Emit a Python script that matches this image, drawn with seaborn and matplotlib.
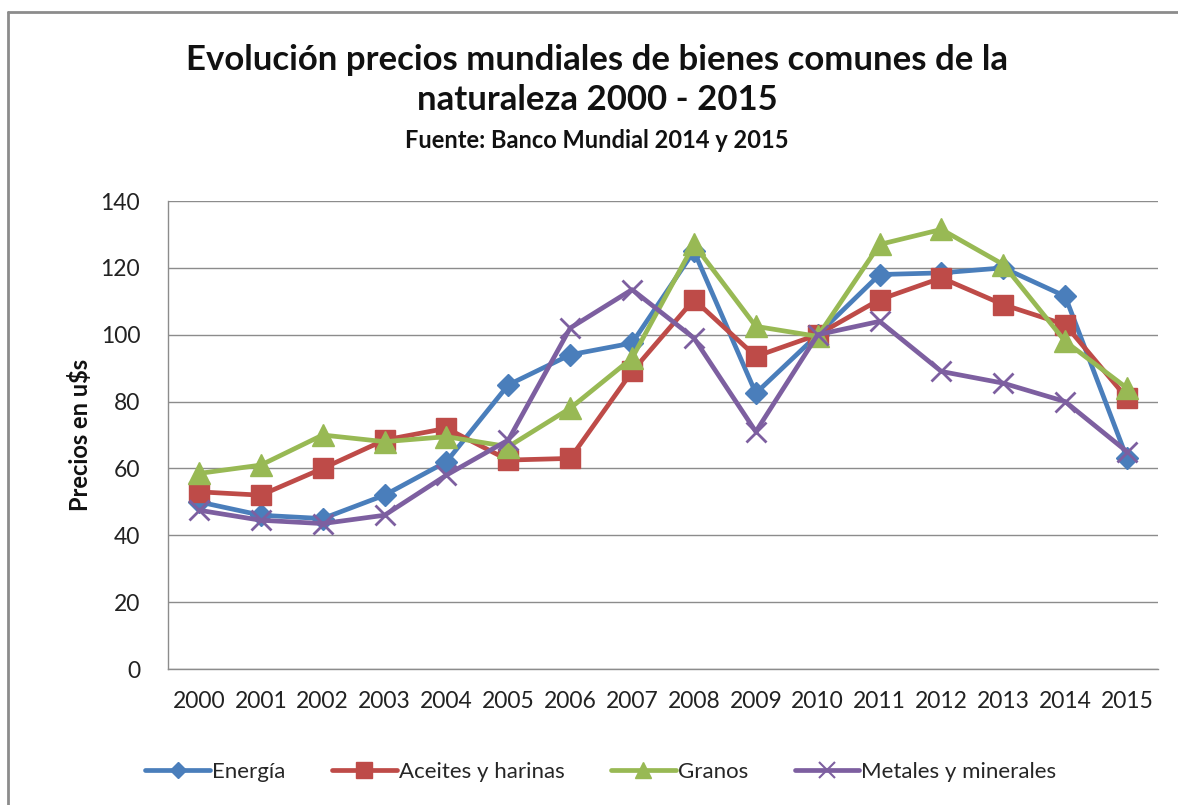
import matplotlib
matplotlib.use("Agg")
import matplotlib.pyplot as plt
import seaborn as sns
import pandas as pd
from matplotlib.lines import Line2D

years = list(range(2000, 2016))
energia = [50, 46, 45, 52, 62, 85, 94, 97.5, 125, 82.5, 100, 118, 118.5, 120, 111.5, 63]
aceites = [53, 52, 60, 68.5, 72, 62.5, 63, 89, 110.5, 93.5, 100, 110.5, 117, 109, 103, 81]
granos = [58.5, 61, 70, 68, 69.5, 66.5, 78, 93, 127, 102.5, 99.5, 127, 131.5, 121, 98, 84]
metales = [47.5, 44.5, 43.5, 46, 58, 68.5, 102, 113.5, 99, 71, 100, 104, 89, 85.5, 80, 65]

series_names = ["Energía", "Aceites y harinas", "Granos", "Metales y minerales"]
series_values = [energia, aceites, granos, metales]
colors = ["#4A7EBB", "#BE4B48", "#98B954", "#7D5FA0"]
markers = ["D", "s", "^", "x"]
msizes = [11, 15, 16, 15]

sns.set_theme(style="white")
plt.rcParams['font.family'] = ['Lato', 'DejaVu Sans']

fig = plt.figure(figsize=(11.78, 8.05), dpi=100)
ax = fig.add_axes([168/1178, 1-669/805, (1158-168)/1178, (669-201)/805])

for name, vals, c, m, ms in zip(series_names, series_values, colors, markers, msizes):
    df = pd.DataFrame({"year": years, "value": vals})
    sns.lineplot(data=df, x="year", y="value", ax=ax, color=c, linewidth=3.4,
                 marker=m, markersize=ms, markeredgecolor=c,
                 markeredgewidth=(2 if m == "x" else 1), label=name, legend=False)

ax.set_xlim(1999.5, 2015.5)
ax.set_ylim(0, 140)
ax.set_yticks(range(0, 141, 20))
ax.set_xticks(years)
ax.set_xticklabels([str(y) for y in years], fontsize=16.5, color="#222222")
ax.tick_params(axis="y", labelsize=16.5, colors="#222222", length=0, pad=20)
ax.tick_params(axis="x", length=0, pad=16)
ax.grid(axis="y", color="#8c8c8c", linewidth=1)
ax.grid(axis="x", visible=False)
for s in ["top", "right"]:
    ax.spines[s].set_visible(False)
for s in ["left", "bottom"]:
    ax.spines[s].set_color("#8c8c8c")
    ax.spines[s].set_linewidth(1)
ax.set_xlabel("")
ax.set_ylabel("Precios en u$s", fontsize=17, fontweight="bold", color="#111111", labelpad=6)

fig.text(597/1178, 1-60/805, "Evolución precios mundiales de bienes comunes de la",
         ha="center", va="center", fontsize=25, fontweight="bold", color="#111111")
fig.text(597/1178, 1-100/805, "naturaleza 2000 - 2015",
         ha="center", va="center", fontsize=25, fontweight="bold", color="#111111")
fig.text(597/1178, 1-141/805, "Fuente: Banco Mundial 2014 y 2015",
         ha="center", va="center", fontsize=17, fontweight="bold", color="#111111")

handles = [Line2D([0], [0], color=c, linewidth=3.4, marker=m, markersize=ms * 0.75,
                  markeredgecolor=c, markeredgewidth=(1.5 if m == "x" else 1))
           for c, m, ms in zip(colors, markers, msizes)]
fig.legend(handles, series_names, loc="center", bbox_to_anchor=(601/1178, 1-772/805),
           ncol=4, frameon=False, fontsize=16, handlelength=2.9, columnspacing=2.1,
           handletextpad=0.1)

# outer frame
fig.add_artist(Line2D([8/1178, 8/1178], [0, 1-12/805], transform=fig.transFigure,
                      color="#8c8c8c", linewidth=2))
fig.add_artist(Line2D([8/1178, 1], [1-12/805, 1-12/805], transform=fig.transFigure,
                      color="#8c8c8c", linewidth=2))

fig.savefig("out.png", dpi=100)
